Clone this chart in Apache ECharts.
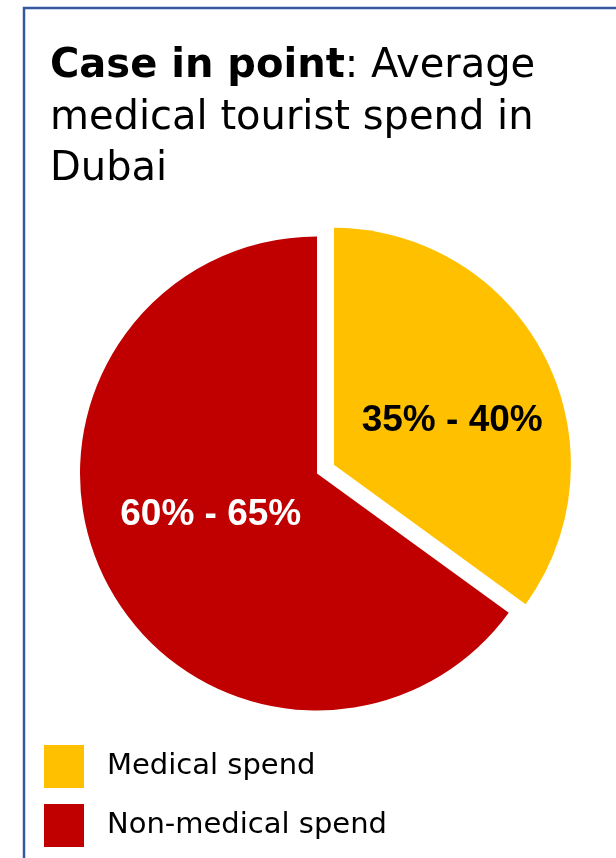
<!DOCTYPE html>
<html>
<head>
<meta charset="utf-8">
<script src="https://cdn.jsdelivr.net/npm/echarts@6/dist/echarts.min.js"></script>
<style>
html,body{margin:0;padding:0;background:#fff;}
#chart{width:616px;height:858px;}
</style>
</head>
<body>
<div id="chart"></div>
<script>
const categories = ['Medical spend', 'Non-medical spend'];
const values = [35, 65];
const sliceLabels = ['35% - 40%', '60% - 65%'];
const colors = ['#FFC000', '#C00000'];
const labelColors = ['#000000', '#FFFFFF'];
const labelOffsets = [[10, 11], [2, -14]];

const chart = echarts.init(document.getElementById('chart'), null, {renderer: 'canvas'});
chart.setOption({
  backgroundColor: '#ffffff',
  animation: false,
  graphic: [{
    type: 'rect',
    shape: {x: 24, y: 8, width: 700, height: 900},
    style: {fill: 'none', stroke: '#3458A0', lineWidth: 2.5},
    z: 100
  }],
  title: {
    left: 50,
    top: 41,
    padding: 0,
    text: '{b|Case in point}{n|: Average}\n{n|medical tourist spend in}\n{n|Dubai}',
    textStyle: {
      rich: {
        b: {fontFamily: 'DejaVu Sans', fontSize: 40, fontWeight: 'bold', color: '#000', lineHeight: 51.5},
        n: {fontFamily: 'DejaVu Sans', fontSize: 40, fontWeight: 'normal', color: '#000', lineHeight: 51.5}
      }
    }
  },
  legend: {
    orient: 'vertical',
    left: 44,
    top: 745,
    padding: 0,
    itemWidth: 40,
    itemHeight: 43,
    itemGap: 16,
    icon: 'rect',
    data: categories,
    selectedMode: false,
    textStyle: {
      fontFamily: 'DejaVu Sans',
      fontSize: 29,
      color: '#000',
      padding: [0, 0, 0, 18]
    }
  },
  series: [{
    type: 'pie',
    center: [317, 473.5],
    radius: [0, 237],
    startAngle: 90,
    clockwise: true,
    selectedMode: 'single',
    selectedOffset: 19,
    avoidLabelOverlap: false,
    label: {show: true, position: 'inside'},
    labelLine: {show: false},
    emphasis: {disabled: true},
    data: categories.map((c, i) => {
      const lbl = {
        formatter: sliceLabels[i],
        color: labelColors[i],
        fontFamily: 'Liberation Sans',
        fontWeight: 'bold',
        fontSize: 37,
        offset: labelOffsets[i]
      };
      return {
        name: c,
        value: values[i],
        selected: i === 0,
        itemStyle: {color: colors[i], borderWidth: 0},
        label: lbl,
        select: {label: Object.assign({}, lbl), itemStyle: {color: colors[i]}}
      };
    })
  }]
});
</script>
</body>
</html>
